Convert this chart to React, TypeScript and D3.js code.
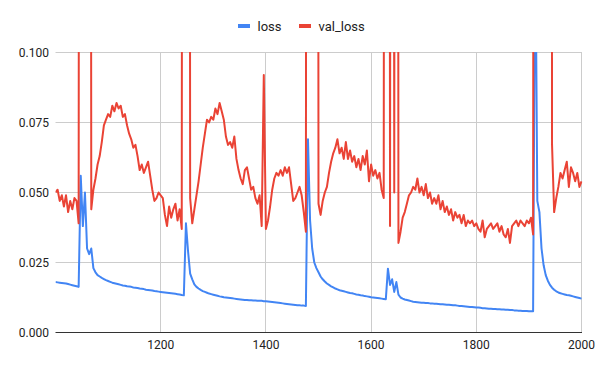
import * as d3 from 'd3'

// epochs sampled every 4 steps, 1000 .. 2000
const epochs = d3.range(1000, 2001, 4)

const loss = [
  0.0180, 0.0179, 0.0178, 0.0177, 0.0176, 0.0175, 0.0173, 0.0171, 0.0169, 0.0167, // 1000
  0.0165, 0.0163, 0.056, 0.038, 0.050, 0.030, 0.028, 0.030, 0.023, 0.0215, // 1040
  0.0205, 0.0200, 0.0195, 0.0191, 0.0187, 0.0184, 0.0181, 0.0178, 0.0176, 0.0174, // 1080
  0.0172, 0.0170, 0.0168, 0.0167, 0.0165, 0.0164, 0.0163, 0.0161, 0.0160, 0.0159, // 1120
  0.0157, 0.0156, 0.0155, 0.0153, 0.0152, 0.0151, 0.0150, 0.0148, 0.0147, 0.0146, // 1160
  0.0145, 0.0144, 0.0143, 0.0142, 0.0141, 0.0140, 0.0139, 0.0138, 0.0137, 0.0136, // 1200
  0.0134, 0.0133, 0.039, 0.029, 0.021, 0.019, 0.0172, 0.0163, 0.0157, 0.0152, // 1240
  0.0148, 0.0145, 0.0142, 0.0139, 0.0137, 0.0135, 0.0133, 0.0131, 0.0129, 0.0128, // 1280
  0.0126, 0.0125, 0.0124, 0.0123, 0.0122, 0.0121, 0.0120, 0.0119, 0.0118, 0.0117, // 1320
  0.0116, 0.0116, 0.0115, 0.0115, 0.0114, 0.0114, 0.0113, 0.0113, 0.0113, 0.0112, // 1360
  0.0112, 0.0111, 0.0110, 0.0109, 0.0108, 0.0107, 0.0106, 0.0105, 0.0104, 0.0103, // 1400
  0.0102, 0.0101, 0.0100, 0.0099, 0.0098, 0.0097, 0.0097, 0.0096, 0.0096, 0.0095, // 1440
  0.069, 0.040, 0.030, 0.025, 0.023, 0.0215, 0.0200, 0.0190, 0.0182, 0.0175, // 1480
  0.0170, 0.0165, 0.0161, 0.0157, 0.0154, 0.0151, 0.0149, 0.0147, 0.0145, 0.0143, // 1520
  0.0141, 0.0140, 0.0138, 0.0136, 0.0135, 0.0133, 0.0132, 0.0130, 0.0129, 0.0128, // 1560
  0.0126, 0.0125, 0.0124, 0.0123, 0.0122, 0.0121, 0.0120, 0.0119, 0.0228, 0.0170, // 1600
  0.0190, 0.0145, 0.0180, 0.0135, 0.0125, 0.0121, 0.0118, 0.0116, 0.0114, 0.0112, // 1640
  0.0110, 0.0109, 0.0108, 0.0107, 0.0106, 0.0106, 0.0105, 0.0105, 0.0104, 0.0104, // 1680
  0.0103, 0.0103, 0.0102, 0.0101, 0.0101, 0.0100, 0.0099, 0.0099, 0.0098, 0.0097, // 1720
  0.0097, 0.0096, 0.0095, 0.0095, 0.0094, 0.0093, 0.0092, 0.0091, 0.0091, 0.0090, // 1760
  0.0089, 0.0089, 0.0088, 0.0087, 0.0087, 0.0086, 0.0085, 0.0085, 0.0084, 0.0084, // 1800
  0.0083, 0.0083, 0.0082, 0.0082, 0.0081, 0.0081, 0.0080, 0.0080, 0.0079, 0.0079, // 1840
  0.0078, 0.0078, 0.0077, 0.0077, 0.0077, 0.0076, 0.0076, 0.0076, 0.150, 0.047, // 1880
  0.043, 0.030, 0.024, 0.0205, 0.0185, 0.0170, 0.0160, 0.0153, 0.0147, 0.0143, // 1920
  0.0140, 0.0138, 0.0136, 0.0134, 0.0133, 0.0131, 0.0129, 0.0127, 0.0125, 0.0123, // 1960
  0.0121, // 2000
]

const valLoss = [
  0.050, 0.051, 0.047, 0.049, 0.045, 0.049, 0.043, 0.047, 0.044, 0.048, // 1000
  0.047, 0.039, 1.0, 1.0, 1.0, 1.0, 1.0, 0.044, 0.051, 0.055, // 1040
  0.060, 0.063, 0.068, 0.074, 0.076, 0.078, 0.077, 0.081, 0.079, 0.082, // 1080
  0.080, 0.081, 0.077, 0.078, 0.074, 0.071, 0.069, 0.066, 0.067, 0.063, // 1120
  0.058, 0.060, 0.057, 0.059, 0.061, 0.056, 0.051, 0.047, 0.048, 0.050, // 1160
  0.049, 0.048, 0.042, 0.038, 0.045, 0.041, 0.044, 0.046, 0.040, 0.044, // 1200
  0.037, 1.0, 1.0, 1.0, 0.048, 0.039, 0.044, 0.049, 0.054, 0.060, // 1240
  0.066, 0.071, 0.076, 0.075, 0.077, 0.076, 0.080, 0.078, 0.082, 0.079, // 1280
  0.076, 0.070, 0.067, 0.068, 0.066, 0.070, 0.062, 0.058, 0.055, 0.053, // 1320
  0.058, 0.059, 0.055, 0.051, 0.052, 0.048, 0.046, 0.049, 0.038, 0.092, // 1360
  0.037, 0.040, 0.045, 0.051, 0.055, 0.057, 0.056, 0.058, 0.056, 0.059, // 1400
  0.057, 0.059, 0.053, 0.047, 0.048, 0.050, 0.052, 0.049, 0.043, 0.036, // 1440
  1.0, 1.0, 1.0, 1.0, 1.0, 0.046, 0.042, 0.047, 0.050, 0.052, // 1480
  0.057, 0.061, 0.064, 0.066, 0.069, 0.064, 0.066, 0.062, 0.068, 0.062, // 1520
  0.065, 0.061, 0.063, 0.059, 0.062, 0.058, 0.063, 0.060, 0.065, 0.054, // 1560
  0.060, 0.056, 0.058, 0.055, 0.057, 0.051, 0.048, 1.0, 1.0, 0.038, // 1600
  1.0, 0.050, 1.0, 0.032, 0.036, 0.041, 0.043, 0.046, 0.049, 0.050, // 1640
  0.052, 0.051, 0.055, 0.050, 0.052, 0.049, 0.053, 0.048, 0.050, 0.046, // 1680
  0.048, 0.046, 0.049, 0.044, 0.047, 0.043, 0.045, 0.042, 0.044, 0.040, // 1720
  0.043, 0.041, 0.042, 0.039, 0.042, 0.038, 0.040, 0.039, 0.040, 0.038, // 1760
  0.039, 0.037, 0.036, 0.040, 0.034, 0.037, 0.038, 0.039, 0.037, 0.038, // 1800
  0.039, 0.036, 0.038, 0.035, 0.034, 0.037, 0.032, 0.038, 0.039, 0.040, // 1840
  0.038, 0.040, 0.039, 0.038, 0.040, 0.039, 0.041, 0.035, 1.0, 1.0, // 1880
  1.0, 1.0, 1.0, 1.0, 1.0, 1.0, 0.067, 0.043, 0.048, 0.052, // 1920
  0.057, 0.055, 0.058, 0.061, 0.052, 0.059, 0.057, 0.054, 0.057, 0.052, // 1960
  0.054, // 2000
]

const xTicks = [1200, 1400, 1600, 1800, 2000]
const yTicks = [0, 0.025, 0.05, 0.075, 0.1]
const seriesNames = ['loss', 'val_loss']
const seriesColors = ['#4285f4', '#ea4335']

const width = 600
const height = 371
const font = "Roboto, Arial, sans-serif"

export default function App() {
  const x = d3.scaleLinear().domain([1000, 2000]).range([55.5, 581.5])
  const y = d3.scaleLinear().domain([0, 0.1]).range([332.5, 52.5])

  const line = d3.line<number>()
    .x((_, i) => x(epochs[i]))
    .y(d => y(d))

  const crisp = (v: number) => Math.floor(v) + 0.5

  // legend items laid out centred
  const legend = [
    { name: seriesNames[0], color: seriesColors[0], x: 238 },
    { name: seriesNames[1], color: seriesColors[1], x: 299 },
  ]

  return (
    <svg width={width} height={height} style={{ position: 'absolute', left: 0, top: 0 }} fontFamily={font}>
      <defs>
        <clipPath id="plot">
          <rect x={x(1000)} y={y(0.1) - 0.5} width={x(2000) - x(1000) + 1} height={y(0) - y(0.1) + 1} />
        </clipPath>
      </defs>

      {/* gridlines */}
      {yTicks.filter(t => t > 0).map(t => (
        <line key={'h' + t} x1={x(1000)} x2={x(2000) + 0.5} y1={y(t)} y2={y(t)} stroke="#cccccc" strokeWidth={1} />
      ))}
      {xTicks.map(t => (
        <line key={'v' + t} x1={crisp(x(t))} x2={crisp(x(t))} y1={y(0.1)} y2={y(0)} stroke="#cccccc" strokeWidth={1} />
      ))}

      {/* series */}
      <g clipPath="url(#plot)" fill="none" strokeWidth={2} strokeLinejoin="round">
        <path d={line(loss) ?? ''} stroke={seriesColors[0]} />
        <path d={line(valLoss) ?? ''} stroke={seriesColors[1]} />
      </g>

      {/* baseline */}
      <line x1={x(1000)} x2={x(2000) + 0.5} y1={y(0)} y2={y(0)} stroke="#333333" strokeWidth={1} />

      {/* y tick labels */}
      {yTicks.map(t => (
        <text key={'yl' + t} x={49} y={y(t)} dy="0.35em" textAnchor="end" fontSize={12} fill="#222222">
          {d3.format('.3f')(t)}
        </text>
      ))}

      {/* x tick labels */}
      {xTicks.map(t => (
        <text key={'xl' + t} x={x(t)} y={349} textAnchor="middle" fontSize={12} fill="#222222">
          {t}
        </text>
      ))}

      {/* legend */}
      {legend.map(l => (
        <g key={l.name}>
          <rect x={l.x} y={24} width={12} height={4} fill={l.color} />
          <text x={l.x + 19.5} y={30.5} fontSize={13} fill="#222222">{l.name}</text>
        </g>
      ))}
    </svg>
  )
}
